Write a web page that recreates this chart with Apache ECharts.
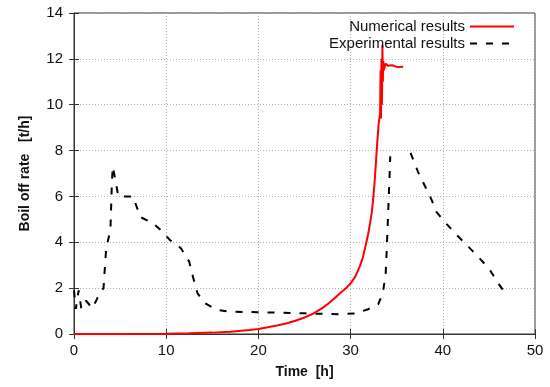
<!DOCTYPE html>
<html>
<head>
<meta charset="utf-8">
<script src="https://cdn.jsdelivr.net/npm/echarts@6/dist/echarts.min.js"></script>
<style>
  html, body { margin: 0; padding: 0; background: #fff; }
  #chart { width: 550px; height: 387px; }
</style>
</head>
<body>
<div id="chart"></div>
<script>
// datos: [tiempo h, boil off t/h]
const numerical = [
  [0, 0], [5, 0], [10, 0.01], [12.5, 0.03], [15, 0.06], [17, 0.1], [19, 0.17],
  [20, 0.22], [21, 0.29], [22, 0.37], [23, 0.46], [24, 0.58], [25, 0.72],
  [26, 0.9], [27, 1.15], [27.5, 1.3], [28, 1.47], [28.5, 1.65], [29, 1.83],
  [29.5, 2.0], [30, 2.2], [30.5, 2.5], [31, 2.95], [31.3, 3.3], [31.6, 3.8],
  [31.9, 4.35], [32.1, 4.8], [32.3, 5.3], [32.45, 5.9], [32.6, 6.6],
  [32.75, 7.5], [32.9, 8.4], [33.05, 9.2], [33.2, 9.6], [33.25, 11.5],
  [33.3, 9.4], [33.35, 12.0], [33.4, 10.0], [33.45, 12.6], [33.5, 11.0],
  [33.55, 11.9], [33.6, 11.5], [33.8, 11.8], [34, 11.7], [34.5, 11.72],
  [35, 11.65], [35.7, 11.66]
];
const experimental = [
  [0, 1.9], [0.2, 1.1], [0.5, 1.9], [0.8, 1.1], [1.3, 1.45], [2.0, 1.12],
  [2.7, 1.7], [3.2, 2.0], [3.5, 3.8], [3.95, 4.5], [4.1, 6.5], [4.2, 7.3],
  [4.55, 6.6], [4.8, 6.0], [6.4, 6.0], [7.2, 5.1], [8.5, 4.85], [9.5, 4.5],
  [10.4, 4.1], [11.6, 3.74], [12.5, 3.15], [12.9, 2.5], [13.4, 1.77],
  [14.2, 1.34], [15.5, 1.05], [17, 0.97], [20, 0.95], [25, 0.9],
  [28.8, 0.86], [30.5, 0.9], [31.9, 1.08], [33.0, 1.3], [33.5, 1.8],
  [33.8, 2.6], [33.9, 3.5], [34.1, 5.55], [34.3, 7.75], null,
  [36.5, 7.9], [37.3, 7.08], [38.1, 6.42], [38.8, 5.84], [39.3, 5.33],
  [40.4, 4.8], [41.5, 4.32], [42.8, 3.8], [43.9, 3.34], [45.0, 2.86],
  [45.9, 2.28], [46.9, 1.7]
];
const xTicks = [0, 10, 20, 30, 40, 50];
const yTicks = [0, 2, 4, 6, 8, 10, 12, 14];

const chart = echarts.init(document.getElementById('chart'), null, { renderer: 'canvas' });
const font = 'Liberation Sans, Arial, sans-serif';
const frame = '#333';
const grilla = { show: true, lineStyle: { color: '#b0b0b0', type: [1, 2], width: 1 } };

const option = {
  animation: false,
  backgroundColor: '#fff',
  textStyle: { fontFamily: font },
  grid: { left: 74, right: 15, top: 13, bottom: 53, show: true, borderColor: frame, borderWidth: 1 },
  legend: {
    orient: 'vertical',
    right: 30,
    top: 14,
    align: 'right',
    itemWidth: 44,
    itemHeight: 10,
    itemGap: 2,
    itemStyle: { opacity: 0 },
    textStyle: { fontSize: 15, color: '#111', fontFamily: font },
    data: ['Numerical results', 'Experimental results']
  },
  xAxis: [{
    type: 'value', min: xTicks[0], max: xTicks[xTicks.length - 1], interval: 10,
    name: 'Time  [h]', nameLocation: 'middle', nameGap: 31,
    nameTextStyle: { fontSize: 14, fontWeight: 'bold', color: '#111' },
    axisLine: { show: true, lineStyle: { color: frame } },
    axisTick: { show: true, inside: true, length: 5, lineStyle: { color: frame } },
    axisLabel: { fontSize: 15, color: '#111', margin: 9 },
    splitLine: grilla
  }, {
    type: 'value', position: 'top', min: 0, max: 50, interval: 10,
    axisLine: { show: false },
    axisTick: { show: true, inside: true, length: 5, lineStyle: { color: frame } },
    axisLabel: { show: false }, splitLine: { show: false }
  }],
  yAxis: [{
    type: 'value', min: yTicks[0], max: yTicks[yTicks.length - 1], interval: 2,
    name: 'Boil off rate   [t/h]', nameLocation: 'middle', nameGap: 42,
    nameTextStyle: { fontSize: 14, fontWeight: 'bold', color: '#111' },
    axisLine: { show: true, lineStyle: { color: frame } },
    axisTick: { show: true, inside: true, length: 5, lineStyle: { color: frame } },
    axisLabel: { fontSize: 15, color: '#111', margin: 11 },
    splitLine: grilla
  }, {
    type: 'value', position: 'right', min: 0, max: 14, interval: 2,
    axisLine: { show: false },
    axisTick: { show: true, inside: true, length: 5, lineStyle: { color: frame } },
    axisLabel: { show: false }, splitLine: { show: false }
  }],
  series: [
    {
      name: 'Numerical results', type: 'line', data: numerical,
      showSymbol: false, symbol: 'none', z: 3,
      lineStyle: { color: '#ff0000', width: 2 },
      itemStyle: { color: '#ff0000' }
    },
    {
      name: 'Experimental results', type: 'line', data: experimental,
      showSymbol: false, symbol: 'none', connectNulls: false, z: 2,
      lineStyle: { color: '#000', width: 2, type: [7, 9] },
      itemStyle: { color: '#000' }
    }
  ]
};

chart.setOption(option);
</script>
</body>
</html>
